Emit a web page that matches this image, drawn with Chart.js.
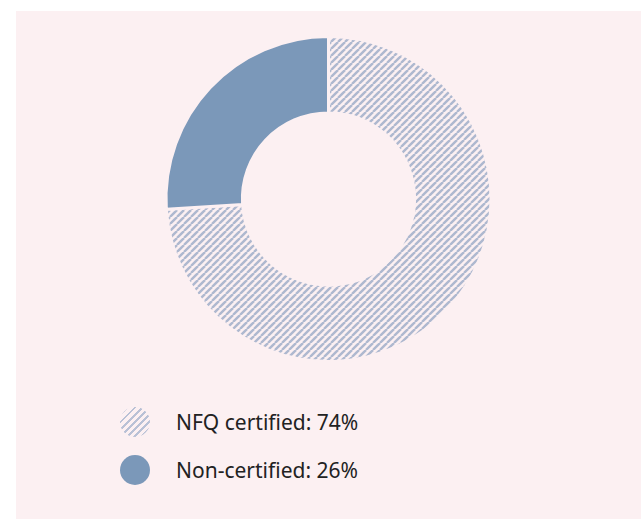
<!DOCTYPE html>
<html>
<head>
<meta charset="utf-8">
<script src="https://cdn.jsdelivr.net/npm/chart.js@4"></script>
<style>
  html, body { margin: 0; padding: 0; background: #ffffff; }
  #panel {
    position: absolute; left: 16px; top: 11px; width: 625px; height: 508px;
    background: #fcf0f2;
  }
  #chartBox { position: absolute; left: 0; top: 24px; width: 625px; height: 328px; }
  .legend-item {
    position: absolute; left: 104px; height: 30px;
    display: flex; align-items: center;
    font-family: "Noto Sans", sans-serif; font-size: 21px; color: #222222;
  }
  .marker { width: 30px; height: 30px; border-radius: 50%; margin-right: 26px; }
</style>
</head>
<body>
<div id="panel">
  <div id="chartBox"><canvas id="donutChart"></canvas></div>
  <div id="legend"></div>
</div>
<script>
const categories = ["NFQ certified", "Non-certified"];
const shares = [74, 26];
const legendLabels = ["NFQ certified: 74%", "Non-certified: 26%"];

const panelPink = "#fcf0f2";
const stripeColor = "#aeb8cf";
const solidBlue = "#7b98b9";

function makeHatch() {
    const w = 7, h = 7;
    const tile = document.createElement("canvas");
    tile.width = w;
    tile.height = h;
    const c = tile.getContext("2d");
    c.strokeStyle = stripeColor;
    c.lineWidth = 2.4;
    for (const dx of [-w, 0, w]) {
        c.beginPath();
        c.moveTo(dx, h);
        c.lineTo(dx + w, 0);
        c.stroke();
    }
    return c.createPattern(tile, "repeat");
}

const donutCanvas = document.getElementById("donutChart");

new Chart(donutCanvas, {
    type: "doughnut",
    data: {
        labels: categories,
        datasets: [{
            data: shares,
            backgroundColor: [makeHatch(), solidBlue],
            borderColor: panelPink,
            borderWidth: 3,
            hoverOffset: 0
        }]
    },
    options: {
        responsive: true,
        maintainAspectRatio: false,
        animation: false,
        cutout: "53%",
        plugins: {
            legend: { display: false },
            tooltip: { enabled: false }
        }
    }
});

// legend below the ring
const legendEl = document.getElementById("legend");
const markerStyles = [
    "background: repeating-linear-gradient(135deg, #b9c1d6 0px, #b9c1d6 2px, transparent 2px, transparent 5px);",
    "background: " + solidBlue + ";"
];
const legendTops = [396, 444];
legendLabels.forEach(function (label, i) {
    const item = document.createElement("div");
    item.className = "legend-item";
    item.style.top = legendTops[i] + "px";
    item.innerHTML = '<span class="marker" style="' + markerStyles[i] + '"></span><span></span>';
    item.lastChild.textContent = label;
    legendEl.appendChild(item);
});
</script>
</body>
</html>
